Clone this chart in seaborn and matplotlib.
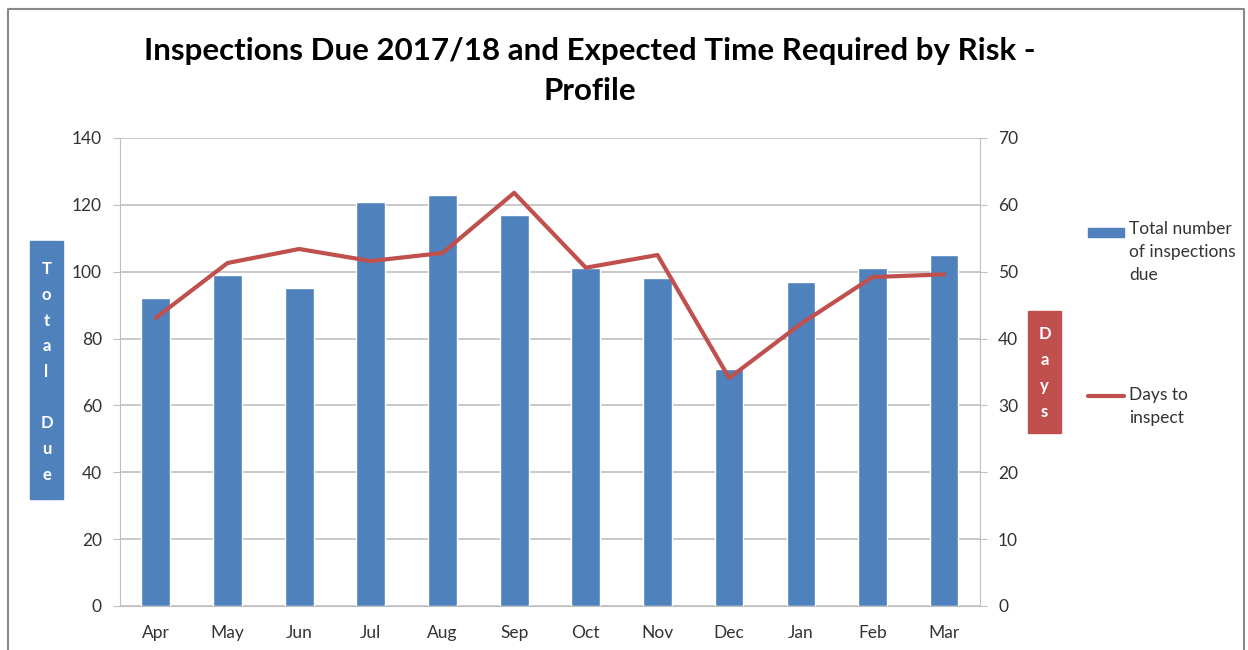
import matplotlib
matplotlib.use("Agg")
import matplotlib.pyplot as plt
import seaborn as sns
import pandas as pd
from matplotlib.patches import Rectangle
from matplotlib.lines import Line2D

months = ["Apr", "May", "Jun", "Jul", "Aug", "Sep", "Oct", "Nov", "Dec", "Jan", "Feb", "Mar"]
inspections_due = [92, 99, 95, 121, 123, 117, 101, 98, 71, 97, 101, 105]
days_to_inspect = [43.1, 51.3, 53.4, 51.6, 52.8, 61.8, 50.6, 52.5, 34.1, 42.2, 49.2, 49.6]

df = pd.DataFrame({"month": months, "due": inspections_due, "days": days_to_inspect})

blue = "#4F81BD"
red = "#C0504D"

sns.set_style("white")
plt.rcParams["font.family"] = ["Lato", "DejaVu Sans"]

fig = plt.figure(figsize=(12.48, 6.5), dpi=100)
ax = fig.add_axes([120 / 1248, 44 / 650, 860 / 1248, 468 / 650])

sns.barplot(data=df, x="month", y="due", color=blue, width=0.4, ax=ax, saturation=1)
ax.set_ylim(0, 140)
ax.set_yticks(range(0, 141, 20))
ax.yaxis.grid(True, color="#BFBFBF", linewidth=1.2)
ax.set_axisbelow(True)
ax.set_xlabel("")
ax.set_ylabel("")
for s in ["top", "right"]:
    ax.spines[s].set_visible(False)
ax.spines["left"].set_color("#BFBFBF")
ax.spines["bottom"].set_color("#BFBFBF")
ax.tick_params(axis="both", labelsize=12.5, colors="#333333", length=5, color="#BFBFBF", direction="out")
ax.tick_params(axis="x", length=0, pad=14)
ax.tick_params(axis="y", pad=8)

ax2 = ax.twinx()
ax2.plot(range(len(months)), df["days"], color=red, linewidth=3)
ax2.set_ylim(0, 70)
ax2.set_yticks(range(0, 71, 10))
for s in ["top", "left", "bottom"]:
    ax2.spines[s].set_visible(False)
ax2.spines["right"].set_color("#BFBFBF")
ax2.tick_params(axis="y", labelsize=12.5, colors="#333333", length=5, color="#BFBFBF", pad=8)
ax.set_xlim(-0.5, 11.5)

fig.text(590 / 1248, 1 - 71 / 650, "Inspections Due 2017/18 and Expected Time Required by Risk -\nProfile",
         ha="center", va="center", fontsize=22.5, fontweight="bold", linespacing=1.55, color="black")

# stacked axis captions in coloured boxes
fig.patches.append(Rectangle((30 / 1248, 1 - 499 / 650), 33 / 1248, 258 / 650,
                             transform=fig.transFigure, color=blue))
fig.text(46.5 / 1248, 1 - 372 / 650, "T\no\nt\na\nl\n\nD\nu\ne", ha="center", va="center",
         color="white", fontsize=12, fontweight="bold", linespacing=1.75)
fig.patches.append(Rectangle((1028 / 1248, 1 - 433 / 650), 33 / 1248, 122 / 650,
                             transform=fig.transFigure, color=red))
fig.text(1044.5 / 1248, 1 - 373 / 650, "D\na\ny\ns", ha="center", va="center",
         color="white", fontsize=12, fontweight="bold", linespacing=1.75)

# legend entries
fig.patches.append(Rectangle((1088 / 1248, 1 - 237 / 650), 36 / 1248, 9 / 650,
                             transform=fig.transFigure, color=blue))
fig.text(1129 / 1248, 1 - 221 / 650, "Total number\nof inspections\ndue", ha="left", va="top",
         fontsize=12.5, color="#333333", linespacing=1.55)
fig.lines.append(Line2D([1088 / 1248, 1124 / 1248], [1 - 396 / 650, 1 - 396 / 650],
                        transform=fig.transFigure, color=red, linewidth=3))
fig.text(1129 / 1248, 1 - 387 / 650, "Days to\ninspect", ha="left", va="top",
         fontsize=12.5, color="#333333", linespacing=1.55)

# outer frame
fig.lines.append(Line2D([8 / 1248, 8 / 1248, 1244 / 1248, 1244 / 1248],
                        [0, 1 - 9 / 650, 1 - 9 / 650, 0],
                        transform=fig.transFigure, color="#888888", linewidth=1.5))

fig.savefig("out.png", dpi=100)
